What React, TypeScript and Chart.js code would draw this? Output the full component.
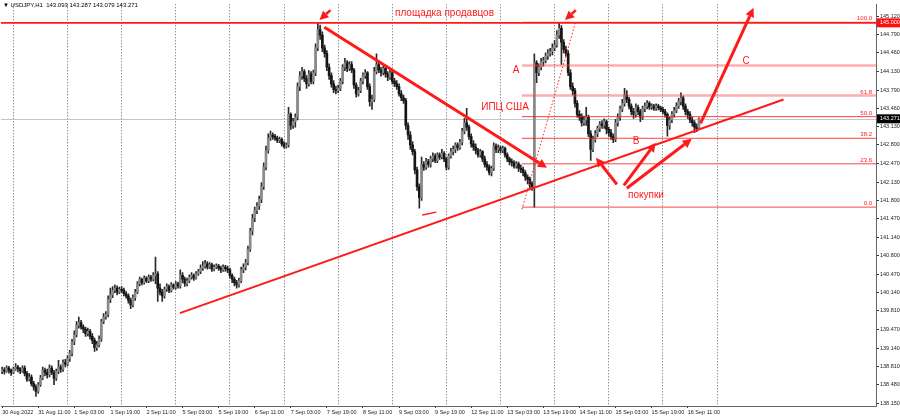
import React, { useEffect, useRef } from 'react';
import { Chart, registerables } from 'chart.js';
Chart.register(...registerables);

// ---------- DATA (USDJPY H1) ----------
const firstOpen = 138.72;
const closes = [
  138.75,138.72,138.78,138.74,138.70,138.76,138.80,138.77,138.73,138.78,
  138.68,138.58,138.62,138.50,138.44,138.36,138.48,138.60,138.74,138.70,
  138.66,138.78,138.70,138.60,138.72,138.80,138.76,138.88,138.85,138.95,
  139.05,139.25,139.38,139.55,139.60,139.52,139.48,139.40,139.44,139.35,
  139.28,139.15,139.20,139.30,139.62,139.70,139.75,140.02,140.10,140.18,
  140.22,140.15,140.20,140.18,140.12,140.08,140.00,139.92,140.05,140.15,
  140.30,140.38,140.32,140.40,140.35,140.42,140.38,140.45,140.48,140.22,
  140.15,140.08,140.20,140.25,140.18,140.28,140.24,140.30,140.26,140.45,
  140.38,140.30,140.35,140.42,140.45,140.40,140.48,140.52,140.58,140.62,
  140.66,140.60,140.64,140.56,140.60,140.62,140.58,140.55,140.60,140.57,
  140.55,140.45,140.38,140.32,140.28,140.35,140.55,140.60,140.68,140.92,
  141.25,141.48,141.62,141.70,141.82,142.05,142.40,142.70,142.92,142.98,
  142.95,142.92,142.88,142.90,142.82,142.78,142.80,143.35,143.15,143.22,
  143.30,143.85,144.05,144.12,144.00,143.90,144.08,143.95,144.10,144.55,
  144.88,144.78,144.55,144.45,144.20,144.05,143.90,143.80,143.78,143.82,
  143.95,144.20,144.28,144.18,144.25,144.15,143.88,143.72,143.78,143.95,
  144.05,144.10,143.85,143.58,143.62,144.12,144.25,144.15,144.10,144.18,
  144.08,144.02,144.10,143.95,143.90,143.85,143.72,143.65,143.60,143.15,
  142.98,142.80,142.68,142.35,142.05,141.85,142.45,142.40,142.50,142.45,
  142.55,142.60,142.52,142.62,142.58,142.65,142.55,142.40,142.60,142.68,
  142.72,142.80,142.75,142.85,143.05,143.20,143.12,142.95,142.82,142.76,
  142.70,142.62,142.68,142.55,142.45,142.40,142.30,142.38,142.78,142.72,
  142.75,142.70,142.74,142.62,142.55,142.50,142.48,142.42,142.46,142.38,
  142.36,142.30,142.22,142.18,142.10,142.05,144.28,144.10,144.20,144.30,
  144.32,144.40,144.45,144.48,144.55,144.60,144.78,144.90,144.65,144.52,
  144.45,144.10,143.85,143.78,143.55,143.35,143.30,143.20,143.25,143.30,
  143.00,142.72,142.90,143.00,143.10,143.18,143.15,143.22,143.08,143.02,
  142.95,142.90,143.20,143.30,143.45,143.55,143.70,143.62,143.50,143.40,
  143.35,143.48,143.40,143.30,143.45,143.50,143.55,143.48,143.50,143.46,
  143.50,143.47,143.44,143.40,143.35,143.15,143.25,143.35,143.42,143.50,
  143.58,143.65,143.50,143.40,143.35,143.25,143.20,143.12,143.093,143.271,
];
const highs = [
  138.80,138.79,138.82,138.81,138.76,138.80,138.86,138.83,138.79,138.82,
  138.82,138.72,138.68,138.66,138.54,138.48,138.52,138.65,138.80,138.78,
  138.76,138.84,138.82,138.74,138.76,138.92,138.84,138.93,138.94,139.00,
  139.10,139.30,139.45,139.62,139.70,139.64,139.56,139.52,139.50,139.48,
  139.40,139.32,139.26,139.36,139.66,139.76,139.80,140.08,140.22,140.25,
  140.28,140.26,140.24,140.25,140.22,140.16,140.12,140.04,140.10,140.20,
  140.34,140.42,140.40,140.44,140.43,140.46,140.45,140.50,140.78,140.52,
  140.30,140.20,140.24,140.30,140.28,140.32,140.30,140.34,140.33,140.55,
  140.50,140.42,140.40,140.46,140.50,140.48,140.52,140.56,140.64,140.70,
  140.72,140.70,140.68,140.67,140.64,140.66,140.65,140.62,140.64,140.63,
  140.62,140.58,140.48,140.42,140.36,140.40,140.60,140.66,140.74,140.98,
  141.30,141.55,141.68,141.76,141.88,142.12,142.48,142.78,143.00,143.05,
  143.02,142.99,142.96,142.94,142.93,142.86,142.84,143.48,143.38,143.28,
  143.36,143.92,144.12,144.20,144.16,144.05,144.14,144.12,144.15,144.62,
  144.99,144.96,144.84,144.60,144.50,144.26,144.10,143.96,143.86,143.88,
  144.00,144.25,144.36,144.32,144.30,144.30,144.18,143.92,143.84,144.00,
  144.10,144.16,144.12,143.90,143.70,144.20,144.44,144.30,144.20,144.22,
  144.22,144.12,144.15,144.13,144.00,143.96,143.90,143.78,143.70,143.64,
  143.20,143.04,142.86,142.72,142.40,142.10,142.58,142.50,142.56,142.54,
  142.60,142.66,142.64,142.66,142.66,142.72,142.68,142.58,142.64,142.74,
  142.78,142.84,142.84,142.90,143.10,143.28,143.46,143.16,143.00,142.88,
  142.82,142.74,142.72,142.70,142.60,142.50,142.44,142.42,142.84,142.82,
  142.80,142.78,142.78,142.76,142.66,142.58,142.55,142.52,142.50,142.49,
  142.44,142.40,142.34,142.26,142.22,142.14,144.44,144.32,144.26,144.36,
  144.38,144.46,144.52,144.54,144.62,144.68,144.86,145.00,144.95,144.70,
  144.58,144.50,144.16,143.92,143.82,143.60,143.42,143.36,143.32,143.48,
  143.34,143.06,142.96,143.06,143.14,143.22,143.24,143.27,143.25,143.12,
  143.08,143.00,143.26,143.36,143.50,143.62,143.82,143.78,143.66,143.54,
  143.46,143.54,143.52,143.44,143.50,143.56,143.60,143.58,143.54,143.53,
  143.54,143.53,143.50,143.48,143.44,143.38,143.30,143.40,143.48,143.56,
  143.64,143.74,143.68,143.54,143.44,143.40,143.30,143.24,143.18,143.287,
];
const lows = [
  138.68,138.67,138.70,138.69,138.65,138.68,138.74,138.71,138.68,138.70,
  138.64,138.54,138.55,138.46,138.38,138.27,138.33,138.45,138.57,138.64,
  138.60,138.62,138.66,138.48,138.56,138.68,138.70,138.72,138.80,138.82,
  138.90,139.00,139.20,139.34,139.50,139.48,139.42,139.35,139.36,139.30,
  139.22,139.08,139.10,139.16,139.26,139.58,139.66,139.70,139.96,140.05,
  140.14,140.10,140.12,140.14,140.08,140.04,139.95,139.85,139.88,140.00,
  140.12,140.26,140.28,140.29,140.32,140.32,140.34,140.35,140.30,139.98,
  140.10,139.98,140.04,140.16,140.14,140.15,140.20,140.20,140.22,140.22,
  140.32,140.25,140.26,140.32,140.38,140.36,140.38,140.45,140.48,140.54,
  140.58,140.56,140.57,140.52,140.53,140.57,140.54,140.50,140.52,140.52,
  140.50,140.40,140.32,140.26,140.22,140.24,140.32,140.50,140.55,140.64,
  140.88,141.18,141.42,141.56,141.64,141.76,142.00,142.35,142.65,142.88,
  142.90,142.88,142.84,142.84,142.78,142.74,142.74,142.76,143.08,143.10,
  143.12,143.25,143.78,143.98,143.94,143.82,143.86,143.90,143.90,144.05,
  144.50,144.70,144.48,144.38,144.14,143.98,143.84,143.74,143.72,143.74,
  143.78,143.90,144.14,144.12,144.14,144.10,143.82,143.66,143.68,143.74,
  143.90,144.00,143.80,143.50,143.44,143.58,144.08,144.10,144.04,144.06,
  144.02,143.96,143.98,143.90,143.85,143.80,143.68,143.60,143.55,143.08,
  142.90,142.72,142.62,142.28,141.98,141.66,141.80,142.34,142.36,142.40,
  142.40,142.50,142.48,142.48,142.54,142.55,142.50,142.35,142.36,142.56,
  142.62,142.66,142.70,142.72,142.80,143.00,143.06,142.90,142.76,142.70,
  142.64,142.58,142.58,142.50,142.40,142.34,142.26,142.24,142.34,142.66,
  142.66,142.65,142.66,142.58,142.50,142.44,142.42,142.38,142.38,142.32,
  142.30,142.24,142.16,142.10,142.02,141.98,141.68,143.92,144.05,144.15,
  144.22,144.28,144.34,144.40,144.42,144.50,144.56,144.72,144.25,144.46,
  144.40,144.05,143.80,143.70,143.48,143.30,143.24,143.14,143.15,143.15,
  142.95,142.52,142.68,142.85,142.95,143.04,143.10,143.10,143.00,142.96,
  142.90,142.84,142.86,143.14,143.24,143.40,143.50,143.56,143.45,143.34,
  143.28,143.30,143.34,143.22,143.26,143.40,143.45,143.44,143.44,143.42,
  143.42,143.43,143.40,143.36,143.30,142.96,143.08,143.20,143.30,143.38,
  143.46,143.52,143.44,143.34,143.28,143.20,143.14,143.02,143.04,143.079,
];

const timeLabels = [
  '30 Aug 2022','31 Aug 11:00','1 Sep 03:00','1 Sep 19:00','2 Sep 11:00','5 Sep 03:00',
  '5 Sep 19:00','6 Sep 11:00','7 Sep 03:00','7 Sep 19:00','8 Sep 11:00','9 Sep 03:00',
  '9 Sep 19:00','12 Sep 11:00','13 Sep 03:00','13 Sep 19:00','14 Sep 11:00','15 Sep 03:00',
  '15 Sep 19:00','16 Sep 11:00',
];
const barsPerLabel = 16;
const dayStartBars = [5,29,53,77,101,125,149,173,197,221,245,269,293,317];
const priceTicks = [
  145.12,144.79,144.46,144.13,143.79,143.46,143.13,142.8,142.47,142.13,141.8,
  141.47,141.14,140.8,140.47,140.14,139.81,139.47,139.14,138.81,138.48,138.15,
];
const totalSlots = 388;
const yMin = 138.097;
const yMax = 145.334;
const resistanceLevel = 145.0;
const lastPrice = 143.271;
const titleText = '\u25BC USDJPY,H1  143.093 143.287 143.079 143.271';

// Fibonacci grid (drawn from the 13 Sep low bar to the right edge)
const fibStartBar = 230.5;
const fibPrices = [141.68, 142.46, 142.92, 143.31, 143.69, 144.23, 145.01];
const fibLabels = ['0.0', '23.6', '38.2', '50.0', '61.8', '', '100.0'];
const fibSoft = [false, false, false, false, true, true, false];

// plain segments: [bar1, price1, bar2, price2]
const supportLine = [78.8, 139.77, 346.5, 143.62];
const lowMarkLine = [186.3, 141.54, 192.5, 141.59];
const fibDiagonal = [230.5, 141.64, 254.4, 145.03];
// arrows: [bar1, price1, bar2(tip), price2(tip)]
const arrowLines = [
  [142.9, 144.92, 241.6, 142.39],
  [145.6, 145.23, 140.7, 145.05],
  [254.4, 145.23, 249.6, 145.05],
  [272.6, 142.09, 263.3, 142.57],
  [275.7, 142.07, 289.8, 142.84],
  [277.0, 142.02, 305.8, 142.91],
  [309.7, 143.19, 333.2, 145.27],
];
const arrowWidths = [3, 2.5, 2.5, 3, 3, 3, 3];
// notes: text, bar, price, align
const noteTexts = ['площадка продавцов', 'A', 'ИПЦ США', 'B', 'C', 'покупки'];
const noteBars = [174.2, 227.9, 223.0, 281.1, 329.9, 285.5];
const notePrices = [145.17, 144.14, 143.48, 142.86, 144.30, 141.89];
const noteAligns = ['left', 'center', 'center', 'center', 'center', 'center'];

const RED = '#ff1a1a';
const BULL = '#8a8a8a';
const BEAR = '#151515';
const FONT = "'Liberation Sans', Arial, sans-serif";

function drawArrow(ctx: CanvasRenderingContext2D, x1: number, y1: number, x2: number, y2: number, w: number) {
  const head = 9;
  const ang = Math.atan2(y2 - y1, x2 - x1);
  const bx = x2 - Math.cos(ang) * head;
  const by = y2 - Math.sin(ang) * head;
  ctx.lineWidth = w;
  ctx.beginPath();
  ctx.moveTo(x1, y1);
  ctx.lineTo(bx, by);
  ctx.stroke();
  const hw = 4.5;
  ctx.beginPath();
  ctx.moveTo(x2, y2);
  ctx.lineTo(bx + Math.sin(ang) * hw, by - Math.cos(ang) * hw);
  ctx.lineTo(bx - Math.sin(ang) * hw, by + Math.cos(ang) * hw);
  ctx.closePath();
  ctx.fill();
}

const underlayPlugin = {
  id: 'underlay',
  beforeDatasetsDraw(chart: any) {
    const { ctx, chartArea, scales } = chart;
    const y = scales.y;
    ctx.save();
    ctx.strokeStyle = '#c4c4c4';
    ctx.lineWidth = 1;
    const py = Math.round(y.getPixelForValue(lastPrice)) + 0.5;
    ctx.beginPath();
    ctx.moveTo(chartArea.left, py);
    ctx.lineTo(chartArea.right, py);
    ctx.stroke();
    ctx.restore();
  },
};

const overlayPlugin = {
  id: 'overlay',
  afterDatasetsDraw(chart: any) {
    const { ctx, chartArea, scales } = chart;
    const xs = scales.x, ys = scales.y;
    const px = (b: number) => xs.getPixelForValue(b);
    const py = (p: number) => ys.getPixelForValue(p);
    ctx.save();
    ctx.beginPath();
    ctx.rect(chartArea.left, chartArea.top, chartArea.right - chartArea.left, chartArea.bottom - chartArea.top);
    ctx.clip();

    // fib levels
    const fx = px(fibStartBar);
    fibPrices.forEach((p, i) => {
      const yy = py(p);
      ctx.strokeStyle = fibSoft[i] ? 'rgba(255,70,70,0.45)' : 'rgba(255,20,20,0.8)';
      ctx.lineWidth = fibSoft[i] ? 2.5 : 1;
      ctx.beginPath();
      ctx.moveTo(fx, yy);
      ctx.lineTo(chartArea.right, yy);
      ctx.stroke();
      if (fibLabels[i]) {
        ctx.fillStyle = RED;
        ctx.font = `6px ${FONT}`;
        ctx.textAlign = 'right';
        ctx.textBaseline = 'bottom';
        ctx.fillText(fibLabels[i], chartArea.right - 4, yy - 0.5);
      }
    });

    // resistance
    ctx.strokeStyle = RED;
    ctx.lineWidth = 1.6;
    ctx.beginPath();
    ctx.moveTo(chartArea.left, py(resistanceLevel));
    ctx.lineTo(chartArea.right, py(resistanceLevel));
    ctx.stroke();

    // dotted diagonal
    ctx.save();
    ctx.setLineDash([1.5, 2]);
    ctx.lineWidth = 1;
    ctx.strokeStyle = RED;
    ctx.beginPath();
    ctx.moveTo(px(fibDiagonal[0]), py(fibDiagonal[1]));
    ctx.lineTo(px(fibDiagonal[2]), py(fibDiagonal[3]));
    ctx.stroke();
    ctx.restore();

    // support trend line & low mark
    ctx.strokeStyle = RED;
    ctx.lineWidth = 2;
    ctx.beginPath();
    ctx.moveTo(px(supportLine[0]), py(supportLine[1]));
    ctx.lineTo(px(supportLine[2]), py(supportLine[3]));
    ctx.stroke();
    ctx.lineWidth = 1.5;
    ctx.beginPath();
    ctx.moveTo(px(lowMarkLine[0]), py(lowMarkLine[1]));
    ctx.lineTo(px(lowMarkLine[2]), py(lowMarkLine[3]));
    ctx.stroke();

    // arrows
    ctx.fillStyle = RED;
    ctx.strokeStyle = RED;
    ctx.lineCap = 'butt';
    arrowLines.forEach((a, i) => {
      drawArrow(ctx, px(a[0]), py(a[1]), px(a[2]), py(a[3]), arrowWidths[i]);
    });

    // notes
    ctx.fillStyle = RED;
    ctx.font = `10px ${FONT}`;
    ctx.textBaseline = 'middle';
    noteTexts.forEach((t, i) => {
      ctx.textAlign = noteAligns[i] as CanvasTextAlign;
      ctx.fillText(t, px(noteBars[i]), py(notePrices[i]));
    });
    ctx.restore();
  },
  afterDraw(chart: any) {
    const { ctx, chartArea, scales } = chart;
    const ys = scales.y;
    ctx.save();
    // title
    ctx.fillStyle = '#000';
    ctx.font = `6px ${FONT}`;
    ctx.textAlign = 'left';
    ctx.textBaseline = 'middle';
    ctx.fillText(titleText, 3, 5);
    // highlighted price labels
    const boxes: [number, string][] = [[resistanceLevel, '#ff1010'], [lastPrice, '#000000']];
    boxes.forEach(([v, bg]) => {
      const yy = ys.getPixelForValue(v);
      ctx.fillStyle = bg;
      ctx.fillRect(chartArea.right + 1, yy - 4.5, 24, 9);
      ctx.fillStyle = '#ffffff';
      ctx.font = `5.5px ${FONT}`;
      ctx.textAlign = 'left';
      ctx.textBaseline = 'middle';
      ctx.fillText(v.toFixed(3), chartArea.right + 4, yy);
    });
    ctx.restore();
  },
};

export default function App() {
  const ref = useRef<HTMLCanvasElement>(null);
  useEffect(() => {
    const canvas = ref.current;
    if (!canvas) return;
    const opens = closes.map((c, i) => (i === 0 ? firstOpen : closes[i - 1]));
    const wickData = closes.map((c, i) => [Math.min(lows[i], opens[i], c), Math.max(highs[i], opens[i], c)]);
    const bodyData = closes.map((c, i) => [opens[i], c]);
    const bodyColors = closes.map((c, i) => (c >= opens[i] ? BULL : BEAR));
    const labels = Array.from({ length: totalSlots }, (_, i) => String(i));
    const isLabelTick = (i: number) => i % barsPerLabel === 0 && i / barsPerLabel < timeLabels.length;

    const chart = new Chart(canvas, {
      type: 'bar',
      data: {
        labels,
        datasets: [
          { label: 'body', data: bodyData as any, backgroundColor: bodyColors, barThickness: 2, grouped: false, minBarLength: 1, order: 0 } as any,
          { label: 'wick', data: wickData as any, backgroundColor: '#2a2a2a', barThickness: 1, grouped: false, order: 1 } as any,
        ],
      },
      options: {
        animation: false,
        responsive: false,
        maintainAspectRatio: false,
        layout: { padding: { left: 1, right: 0, top: 0, bottom: 0 } },
        plugins: { legend: { display: false }, tooltip: { enabled: false }, title: { display: false } },
        scales: {
          x: {
            type: 'category',
            offset: true,
            grid: {
              offset: false,
              lineWidth: 1,
              color: (c: any) => (dayStartBars.includes(c.index) ? 'rgba(70,70,70,0.85)' : 'rgba(0,0,0,0)'),
              drawTicks: true,
              tickLength: 2,
              tickColor: (c: any) => (isLabelTick(c.index) ? '#333' : 'rgba(0,0,0,0)'),
            },
            border: { display: true, color: '#666', width: 1, dash: [1, 2] },
            ticks: {
              autoSkip: false,
              maxRotation: 0,
              minRotation: 0,
              align: 'start',
              padding: 1,
              color: '#222',
              font: { family: FONT, size: 5.5 },
              callback: (_v: any, i: number) => (isLabelTick(i) ? timeLabels[i / barsPerLabel] : ''),
            },
            afterFit: (s: any) => { s.height = 13; },
          },
          y: {
            position: 'right',
            min: yMin,
            max: yMax,
            afterBuildTicks: (s: any) => { s.ticks = priceTicks.map((v) => ({ value: v })); },
            afterFit: (s: any) => { s.width = 24; },
            grid: { drawOnChartArea: false, drawTicks: true, tickLength: 3, tickColor: '#333' },
            border: { display: true, color: '#666', width: 1 },
            ticks: {
              padding: 1,
              color: '#222',
              font: { family: FONT, size: 5.5 },
              callback: (v: any) => Number(v).toFixed(3),
            },
          },
        },
      } as any,
      plugins: [underlayPlugin, overlayPlugin],
    });
    return () => chart.destroy();
  }, []);
  return (
    <div style={{ position: 'fixed', left: 0, top: 0, width: 900, height: 419, background: '#fff' }}>
      <canvas ref={ref} width={900} height={419} style={{ display: 'block', width: 900, height: 419 }} />
    </div>
  );
}
